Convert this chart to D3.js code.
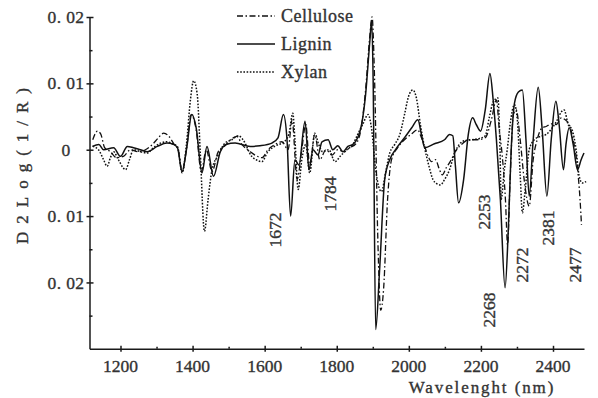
<!DOCTYPE html>
<html>
<head>
<meta charset="utf-8">
<script src="https://cdn.jsdelivr.net/npm/d3@7/dist/d3.min.js"></script>
<style>
  html, body { margin: 0; padding: 0; background: #fff; }
  svg { display: block; }
  text { font-family: "Liberation Serif", "DejaVu Serif", serif; fill: #333; stroke: #333; stroke-width: 0.35px; }
</style>
</head>
<body>
<svg id="chart" width="598" height="398"></svg>
<script>
// Second-derivative NIR spectra, D2 log(1/R), as [wavelength nm, value]
const cellulose = [
  [1123,0.0015],[1136,0.0028],[1145,0.0024],[1156,0.0003],[1172,-0.0003],[1189,-0.0012],
  [1208,-0.001],[1228,0],[1247,-0.0003],[1269,0],[1289,0.0008],[1305,0.0018],[1320,0.0025],
  [1333,0.0021],[1349,0.0008],[1360,0],[1371,-0.0033],[1383,0],[1396,0.0053],[1410,0.003],
  [1424,-0.0033],[1438,0],[1454,-0.0033],[1471,-0.0003],[1490,0.0006],[1510,0.0017],
  [1523,0.002],[1537,0.0008],[1560,-0.0003],[1576,-0.0009],[1593,-0.0012],[1609,0],
  [1629,0.0008],[1648,0.0012],[1665,0],[1676,0.0045],[1690,-0.0045],[1703,0],[1714,0.0038],
  [1725,-0.0023],[1739,0.0023],[1753,-0.0015],[1770,0],[1787,-0.0008],[1803,0],[1820,-0.0003],
  [1836,0.0003],[1853,0.0009],[1867,0.003],[1880,0.009],[1892,0.0173],[1898,0.02],[1905,0.0105],
  [1914,-0.0135],[1922,-0.0242],[1930,-0.021],[1941,-0.0075],[1952,-0.0015],[1969,0.0003],
  [1988,0.0015],[2008,0.0024],[2024,0.003],[2035,0.0018],[2044,0.0005],[2055,-0.0012],
  [2063,-0.0018],[2074,-0.0015],[2085,-0.003],[2093,-0.0038],[2104,-0.0027],[2118,-0.0015],
  [2129,-0.0003],[2146,0.0008],[2168,0.0015],[2190,0.0015],[2212,0.0018],[2229,0.0045],
  [2243,0.0075],[2251,0.003],[2259,-0.0008],[2268,-0.0075],[2274,-0.0143],[2281,-0.0045],
  [2290,0.0053],[2298,0.006],[2309,0.0015],[2320,-0.0045],[2334,-0.0085],[2345,-0.0015],
  [2356,0.0015],[2370,0.0033],[2381,0.0035],[2395,0.0039],[2409,0.0038],[2423,0.0048],
  [2434,0.0045],[2445,0.0038],[2456,0.0015],[2467,-0.0023],[2475,-0.0075],[2479,-0.0113]
];

const lignin = [
  [1122,0.0005],[1140,0.0008],[1153,0],[1181,0.0003],[1200,-0.001],[1219,0.0005],[1236,0.0003],
  [1255,0],[1274,-0.0003],[1302,0.0005],[1329,0.001],[1347,0.0008],[1358,0.0003],[1371,-0.0033],
  [1383,0],[1398,0.0053],[1410,0.0033],[1426,-0.0035],[1440,0.0005],[1458,-0.004],[1477,-0.0003],
  [1493,0.0008],[1518,0.001],[1560,0.0005],[1587,0.0006],[1620,0.001],[1637,0.0018],[1652,0.0053],
  [1662,0.0015],[1672,-0.01],[1684,-0.0015],[1695,-0.0023],[1712,0.0043],[1723,-0.003],[1734,0],
  [1748,-0.0008],[1759,0.0012],[1776,0.0015],[1789,0],[1803,0.0006],[1817,-0.0003],[1831,0.0005],
  [1845,0.0008],[1858,0.0018],[1869,0.0038],[1880,0.0083],[1892,0.0165],[1897,0.0195],[1901,0.0105],
  [1908,-0.0271],[1919,-0.018],[1933,-0.0045],[1947,-0.0015],[1963,0],[1988,0.0018],[2008,0.0033],
  [2025,0.0045],[2035,0.0023],[2044,0.0003],[2071,0.0009],[2099,0.0015],[2113,0.0023],[2122,0.0021],
  [2129,-0.0023],[2138,-0.008],[2152,-0.0045],[2165,0.0023],[2177,0.0048],[2187,0.0038],[2199,0.0028],
  [2212,0.006],[2225,0.0115],[2234,0.0075],[2243,0.0015],[2254,-0.0075],[2267,-0.0208],[2276,-0.012],
  [2284,0],[2293,0.007],[2304,0.0087],[2315,0.009],[2325,0.0015],[2334,-0.007],[2345,0.0015],
  [2359,0.0094],[2370,0.003],[2383,-0.007],[2395,0.0015],[2408,0.0073],[2417,0.0038],[2429,-0.003],
  [2436,0.0008],[2445,0.0033],[2456,0.0008],[2468,-0.003],[2478,-0.0015],[2486,-0.0005]
];

const xylan = [
  [1123,0.0005],[1139,0],[1153,-0.0015],[1163,-0.0025],[1172,-0.0012],[1181,-0.0003],[1194,-0.0015],
  [1214,-0.003],[1225,-0.0015],[1236,0],[1255,-0.0003],[1274,-0.0005],[1291,0.0003],[1311,0.001],
  [1329,0.0012],[1344,0.0009],[1358,0.0005],[1371,-0.0035],[1383,0.0008],[1394,0.0075],[1403,0.0104],
  [1413,0.0083],[1421,0],[1433,-0.0123],[1443,-0.0075],[1454,-0.003],[1471,-0.0008],[1490,0.001],
  [1509,0.0015],[1527,0.0021],[1540,0.0015],[1564,-0.001],[1576,-0.0015],[1592,-0.0018],[1609,-0.0003],
  [1631,0.0006],[1654,0.0012],[1667,0.0023],[1678,0.0055],[1684,0.0015],[1693,-0.006],[1703,-0.0015],
  [1714,0.0008],[1725,-0.0035],[1739,0.0025],[1750,0.0008],[1761,-0.0003],[1778,0],[1795,-0.0018],
  [1811,-0.0009],[1828,0],[1845,0.0008],[1858,0.0023],[1872,0.0038],[1887,0.0053],[1897,0.003],
  [1908,-0.003],[1924,-0.0063],[1936,-0.0033],[1947,-0.0005],[1961,0.0008],[1975,0.0023],[1988,0.0053],
  [1999,0.008],[2011,0.009],[2021,0.0078],[2032,0.0038],[2043,0.0005],[2055,-0.0023],[2067,-0.0045],
  [2077,-0.0051],[2088,-0.0053],[2099,-0.0045],[2113,-0.003],[2127,-0.0005],[2140,0.0008],[2157,0.0014],
  [2174,0.0015],[2196,0.0017],[2212,0.0021],[2223,0.0048],[2234,0.0072],[2247,0.0078],[2253,0],
  [2256,-0.0075],[2265,-0.003],[2273,0],[2281,0.0038],[2293,0.0068],[2301,0.0045],[2309,-0.0038],
  [2315,-0.0095],[2323,-0.006],[2334,0],[2348,0.0015],[2364,0.002],[2381,0.0023],[2398,0.0033],
  [2412,0.0045],[2423,0.0057],[2431,0.006],[2442,0.0038],[2453,0.003],[2464,0],[2472,-0.0038],
  [2481,-0.005],[2492,-0.0048]
];

const seriesNames = ["Cellulose", "Lignin", "Xylan"];
const xTickValues = [1200, 1400, 1600, 1800, 2000, 2200, 2400];
const xMinorTicks = [1300, 1500, 1700, 1900, 2100, 2300];
const yTickValues = [0.02, 0.01, 0, -0.01, -0.02];
const yMinorTicks = [0.015, 0.005, -0.005, -0.015, -0.025];
// Marked absorption bands: wavelength label and where it sits in the plot
const bandLabels = ["1672", "1784", "2253", "2268", "2272", "2381", "2477"];
const bandLabelPos = [[275, 230], [330, 194], [484, 212], [489, 310], [522, 265], [548, 228], [575, 265]];

const svg = d3.select("#chart");
const x = d3.scaleLinear().domain([1114, 2486]).range([89.5, 584]);
const y = d3.scaleLinear().domain([-0.03, 0.02]).range([348.8, 17]);

const styles = {
  Cellulose: { dash: "6,2.5,1.5,2.5", width: 1.3 },
  Lignin:    { dash: null,            width: 1.5 },
  Xylan:     { dash: "1.6,1.6",       width: 1.5 }
};
const dataBy = { Cellulose: cellulose, Lignin: lignin, Xylan: xylan };

// axes
const yAxis = d3.axisLeft(y).tickValues(yTickValues).tickSize(3).tickSizeOuter(0).tickFormat(() => "");
const gy = svg.append("g").attr("transform", "translate(89.5,0)").call(yAxis);
gy.selectAll(".tick line").attr("x1", -3).attr("x2", 4);
gy.append("g").call(d3.axisLeft(y).tickValues(yMinorTicks).tickSize(0).tickFormat(() => ""))
  .call(g => g.select(".domain").remove())
  .selectAll(".tick line").attr("x1", 0).attr("x2", 3);

const xAxis = d3.axisBottom(x).tickValues(xTickValues).tickSize(3).tickSizeOuter(0).tickFormat(() => "");
const gx = svg.append("g").attr("transform", "translate(0,348.8)").call(xAxis);
gx.selectAll(".tick line").attr("y1", -3).attr("y2", 3);
gx.append("g").call(d3.axisBottom(x).tickValues(xMinorTicks).tickSize(0).tickFormat(() => ""))
  .call(g => g.select(".domain").remove())
  .selectAll(".tick line").attr("y1", -2).attr("y2", 0);

svg.selectAll(".domain, .tick line").attr("stroke", "#1a1a1a").attr("stroke-width", 1.5);

// tick labels
svg.append("g").selectAll("text").data(xTickValues).join("text")
  .attr("x", d => x(d)).attr("y", 372)
  .attr("text-anchor", "middle").attr("font-size", 17.5)
  .text(d => d);

const fmtY = v => v === 0 ? "0" : "0. " + String(Math.round(Math.abs(v) * 100)).padStart(2, "0");
svg.append("g").selectAll("text").data(yTickValues).join("text")
  .attr("x", 66).attr("y", d => y(d)).attr("dy", "0.35em")
  .attr("text-anchor", "middle").attr("font-size", 17.5).attr("letter-spacing", 0.4)
  .text(fmtY);

// axis titles
svg.append("text")
  .attr("transform", "translate(22,162) rotate(-90)")
  .attr("text-anchor", "middle").attr("dy", "0.35em")
  .attr("font-size", 17).attr("letter-spacing", 8)
  .text("D2Log(1/R)");

svg.append("text")
  .attr("x", 482).attr("y", 393)
  .attr("text-anchor", "middle").attr("font-size", 17).attr("letter-spacing", 1.9)
  .text("Wavelenght (nm)");

// spectra
const line = d3.line().x(d => x(d[0])).y(d => y(d[1])).curve(d3.curveMonotoneX);
svg.append("g").selectAll("path").data(seriesNames).join("path")
  .attr("d", s => line(dataBy[s]))
  .attr("fill", "none").attr("stroke", "#111")
  .attr("stroke-width", s => styles[s].width)
  .attr("stroke-dasharray", s => styles[s].dash)
  .attr("stroke-linejoin", "round");

// band labels
svg.append("g").selectAll("text").data(bandLabels).join("text")
  .attr("transform", (d, i) => `translate(${bandLabelPos[i][0]},${bandLabelPos[i][1]}) rotate(-90)`)
  .attr("text-anchor", "middle").attr("dy", "0.35em").attr("font-size", 17.5)
  .text(d => d);

// legend
const legend = svg.append("g");
seriesNames.forEach((s, i) => {
  const ly = 16 + i * 28;
  legend.append("line")
    .attr("x1", 237).attr("x2", 275).attr("y1", ly).attr("y2", ly)
    .attr("stroke", "#111").attr("stroke-width", styles[s].width)
    .attr("stroke-dasharray", styles[s].dash);
  legend.append("text")
    .attr("x", 281).attr("y", ly).attr("dy", "0.35em")
    .attr("font-size", 18).attr("letter-spacing", 0.5)
    .text(s);
});
</script>
</body>
</html>
